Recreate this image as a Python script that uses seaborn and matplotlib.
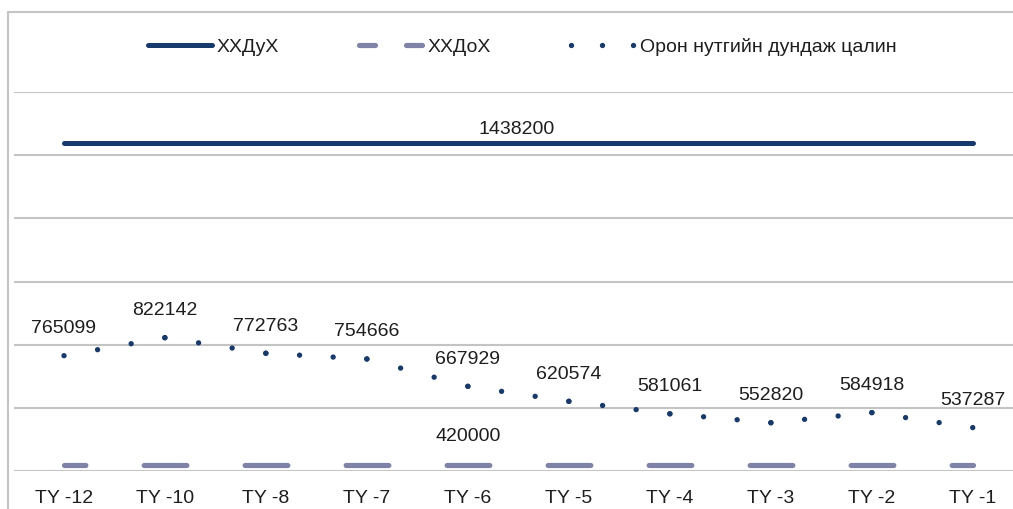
import numpy as np
import pandas as pd
import matplotlib
matplotlib.use("Agg")
import matplotlib.pyplot as plt
from matplotlib.lines import Line2D
import seaborn as sns

# Data
categories = ["TY -12", "TY -10", "TY -8", "TY -7", "TY -6",
              "TY -5", "TY -4", "TY -3", "TY -2", "TY -1"]
upper_limit = [1438200, 1438200, 1438200, 1438200, 1438200,
               1438200, 1438200, 1438200, 1438200, 1438200]
lower_limit = [420000, 420000, 420000, 420000, 420000,
               420000, 420000, 420000, 420000, 420000]
local_wage = [765099, 822142, 772763, 754666, 667929,
              620574, 581061, 552820, 584918, 537287]
series_names = ["ХХДуХ", "ХХДоХ", "Орон нутгийн дундаж цалин"]

sns.set_theme(style="white")
plt.rcParams["font.family"] = ["Liberation Sans", "DejaVu Sans"]

NAVY = "#173a6c"
SLATE = "#8083a8"
GRID = "#c4c4c4"
TEXT = "#1e1e1e"
FS = 14

W, H = 1013, 509
fig = plt.figure(figsize=(W / 100, H / 100), dpi=100)
# plot area in pixels: x 13.5 .. 1023.5, y 92 .. 471 (from top)
ax = fig.add_axes([13.5 / W, (H - 471) / H, 1010 / W, 379 / H])

df = pd.DataFrame({
    "pos": np.arange(len(categories)),
    "upper": upper_limit,
    "lower": lower_limit,
    "wage": local_wage,
})

ax.set_xlim(-0.5, len(categories) - 0.5)
ax.set_ylim(400000, 1600000)

px = 0.72  # points per pixel at 100 dpi

lw_solid = 5.0 * px
lw_dash = 5.2 * px
lw_dot = 5.4 * px

sns.lineplot(data=df, x="pos", y="upper", ax=ax, color=NAVY,
             linewidth=lw_solid, solid_capstyle="round")

on, off = 42.7, 58.3
sns.lineplot(data=df, x="pos", y="lower", ax=ax, color=SLATE,
             linewidth=lw_dash, dash_capstyle="round",
             linestyle=(on / 2 * px / lw_dash,
                        (on * px / lw_dash, off * px / lw_dash)))

# round-dot series: the dot pattern restarts on every segment,
# three dots per segment plus the closing one
for i in range(len(df) - 1):
    seg = df.iloc[i:i + 2]
    p = ax.transData.transform(np.column_stack([seg["pos"], seg["wage"]]))
    seg_len = float(np.hypot(*(p[1] - p[0])))
    gap_px = seg_len / 3 - 0.1
    sns.lineplot(data=seg, x="pos", y="wage", ax=ax, color=NAVY,
                 linewidth=lw_dot, dash_capstyle="round",
                 linestyle=(0, (0.001, gap_px * px / lw_dot)))

ax.set_yticks(np.arange(400000, 1600001, 200000))
ax.set_yticklabels([])
ax.tick_params(axis="y", length=0)
ax.yaxis.grid(True, color=GRID, linewidth=1.5)
ax.set_axisbelow(True)
ax.set_xticks(df["pos"], categories)
ax.tick_params(axis="x", length=0, pad=13.5, labelsize=FS, labelcolor=TEXT)
ax.set_xlabel("")
ax.set_ylabel("")
for s in ["top", "right", "left", "bottom"]:
    ax.spines[s].set_visible(False)

# value labels
for x, v in zip(df["pos"], local_wage):
    ax.annotate(f"{v}", (x, v), xytext=(0, 27 * px), textcoords="offset points",
                ha="center", va="center", fontsize=FS, color=TEXT)
ax.annotate(f"{upper_limit[0]}", ((len(categories) - 1) / 2, upper_limit[0]),
            xytext=(-1.5, 14 * px), textcoords="offset points",
            ha="center", va="center", fontsize=FS, color=TEXT)
ax.annotate(f"{lower_limit[4]}", (4, lower_limit[4]),
            xytext=(0, 28 * px), textcoords="offset points",
            ha="center", va="center", fontsize=FS, color=TEXT)

# legend
h_solid = Line2D([], [], color=NAVY, linewidth=lw_solid, solid_capstyle="round")
h_dash = Line2D([], [], color=SLATE, linewidth=lw_dash, dash_capstyle="round",
                linestyle=(0, (16 * px / lw_dash, 31 * px / lw_dash)))
h_dot = Line2D([], [], color=NAVY, linewidth=lw_dot, dash_capstyle="round",
               linestyle=(0, (0.001, 31 * px / lw_dot)))
fig.legend([h_solid, h_dash, h_dot], series_names, loc="center",
           bbox_to_anchor=(522 / W, (H - 47) / H), ncol=3, frameon=False,
           fontsize=FS, handlelength=3.3, handletextpad=0.25,
           columnspacing=4.1, labelcolor=TEXT)

# outer chart border (left and top edges)
fig.add_artist(Line2D([8 / W, 8 / W], [0, (H - 12) / H], color=GRID,
                      linewidth=1.5, transform=fig.transFigure))
fig.add_artist(Line2D([8 / W, 1.05], [(H - 12) / H, (H - 12) / H], color=GRID,
                      linewidth=1.5, transform=fig.transFigure))

fig.savefig("out.png", dpi=100)
